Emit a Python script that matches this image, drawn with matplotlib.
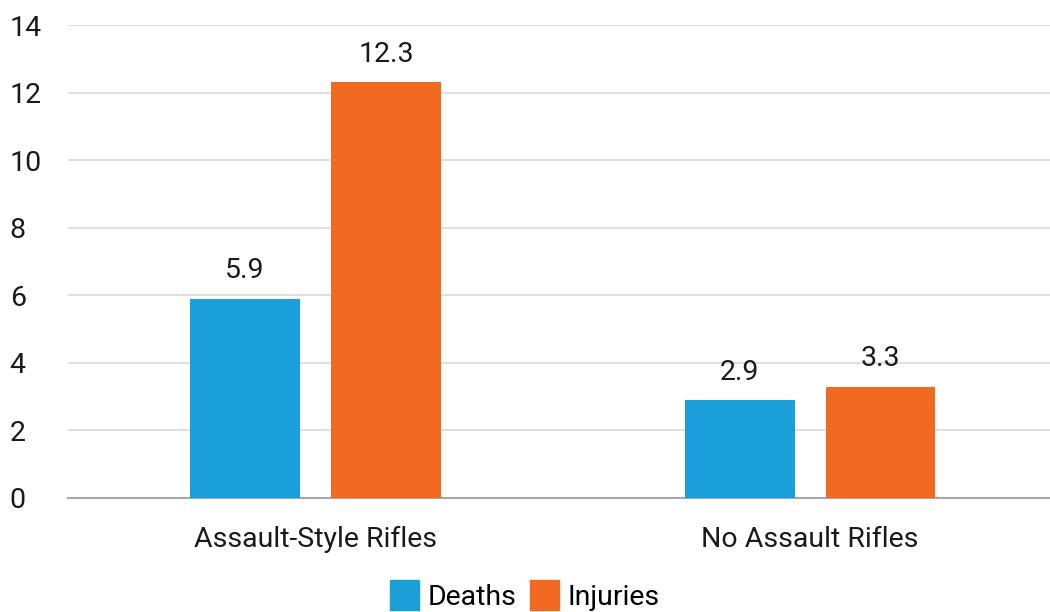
import matplotlib.pyplot as plt
import numpy as np
from matplotlib.patches import Patch

categories = ["Assault-Style Rifles", "No Assault Rifles"]
deaths = [5.9, 2.9]
injuries = [12.3, 3.3]
series_names = ["Deaths", "Injuries"]
colors = ["#1A9FDB", "#F26A22"]

plt.rcParams["font.family"] = ["Roboto", "DejaVu Sans"]
FS = 20.5

fig = plt.figure(figsize=(10.5, 6.12), dpi=100)
ax = fig.add_axes([0.0648, 0.1863, 0.9352, 0.7728])

x = np.arange(len(categories))
w = 0.222
off = 0.1424

b1 = ax.bar(x - off, deaths, w, color=colors[0], zorder=3)
b2 = ax.bar(x + off, injuries, w, color=colors[1], zorder=3)

for bars, vals in [(b1, deaths), (b2, injuries)]:
    for b, v in zip(bars, vals):
        ax.text(b.get_x() + b.get_width() / 2, v + 0.42, f"{v:.1f}",
                ha="center", va="bottom", fontsize=FS, color="#1a1a1a")

ax.set_ylim(0, 14)
ax.set_yticks(range(0, 15, 2))
ax.set_xlim(-0.5, 1.485)
ax.set_xticks(x)
ax.set_xticklabels(categories)
ax.yaxis.grid(True, color="#D9D9D9", linewidth=1.2, zorder=0)
ax.set_axisbelow(True)

for s in ["top", "right", "left"]:
    ax.spines[s].set_visible(False)
ax.spines["bottom"].set_color("#A6A6A6")
ax.spines["bottom"].set_linewidth(1.5)
ax.tick_params(axis="both", length=0, labelsize=FS, colors="#1a1a1a")
ax.tick_params(axis="x", pad=20)
ax.tick_params(axis="y", pad=42)
for t in ax.get_yticklabels():
    t.set_horizontalalignment("left")

handles = [Patch(color=c) for c in colors]
fig.legend(handles, series_names, loc="lower center", ncol=2, frameon=False,
           fontsize=FS, bbox_to_anchor=(0.5, -0.04), handlelength=1.0,
           handleheight=1.25, handletextpad=0.3, columnspacing=0.5)

fig.savefig("out.png", dpi=100)
